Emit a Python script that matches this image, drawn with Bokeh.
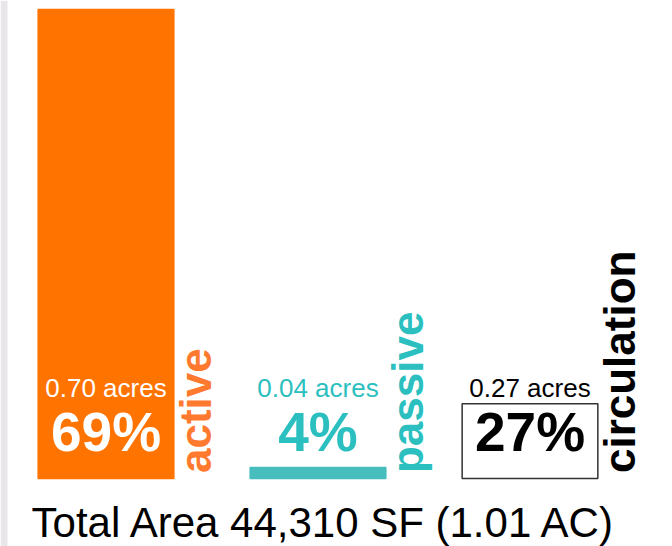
import math
from bokeh.plotting import figure
from bokeh.models import Range1d, ColumnDataSource
from bokeh.core.properties import value
from bokeh.embed import file_html
from bokeh.resources import INLINE

# ---- data ----
categories = ["active", "passive", "circulation"]
percent_labels = ["69%", "4%", "27%"]
acre_labels = ["0.70 acres", "0.04 acres", "0.27 acres"]
bar_heights = [69, 1.6, 11]          # drawn heights
bar_fills = ["#ff7300", "#47bdbd", "#ffffff"]
bar_lines = ["#ff7300", "#47bdbd", "#333333"]
pct_colors = ["#ffffff", "#2bbfbf", "#000000"]
acre_colors = ["#ffffff", "#2bbfbf", "#000000"]
name_colors = ["#ff7a2e", "#2bbfbf", "#000000"]
total_label = "Total Area 44,310 SF (1.01 AC)"

W, H = 672, 546
PX_X = 212.0          # pixels per category step
PX_Y = 6.797          # pixels per percent unit
x0 = -105.5 / PX_X
y0 = -68 / PX_Y

xs = list(range(len(categories)))

p = figure(width=W, height=H, output_backend="svg", toolbar_location=None,
           x_range=Range1d(x0, x0 + W / PX_X), y_range=Range1d(y0, y0 + H / PX_Y),
           min_border=0, min_border_left=0, min_border_right=0,
           min_border_top=0, min_border_bottom=0)
p.axis.visible = False
p.grid.visible = False
p.outline_line_color = None
p.background_fill_color = "#ffffff"
p.border_fill_color = "#ffffff"

# light grey strip at the left edge
p.quad(left=[x0], right=[x0 + 7 / PX_X], bottom=[y0], top=[y0 + H / PX_Y],
       fill_color="#e8e6e8", line_color=None)

src = ColumnDataSource(dict(x=xs, top=bar_heights, fill=bar_fills, line=bar_lines,
                            pct=percent_labels, acres=acre_labels, pc=pct_colors,
                            ac=acre_colors, name=categories, nc=name_colors,
                            nx=[x + 0.42 for x in xs]))

p.vbar(x="x", top="top", bottom=0, width=0.64, fill_color="fill", line_color="line",
       line_width=1.5, source=src)

p.text(x="x", y=6.9, text="pct", text_color="pc", text_align="center",
       text_baseline="alphabetic", text_font=value("Liberation Sans"),
       text_font_style="bold", text_font_size="55px", source=src)
p.text(x="x", y=13.27, text="acres", text_color="ac", text_align="center",
       text_baseline="alphabetic", text_font=value("Liberation Sans"),
       text_font_size="26px", source=src)
p.text(x="nx", y=0.8, text="name", text_color="nc", text_align="left",
       text_baseline="alphabetic", angle=math.pi / 2,
       text_font=value("Liberation Sans"), text_font_style="bold",
       text_font_size="44px", source=src)

p.text(x=[1.031], y=[-6.48], text=[total_label], text_color="#000000",
       text_align="center", text_baseline="alphabetic",
       text_font=value("Liberation Sans"), text_font_size="42px")

open("out.html", "w").write(file_html(p, INLINE))
